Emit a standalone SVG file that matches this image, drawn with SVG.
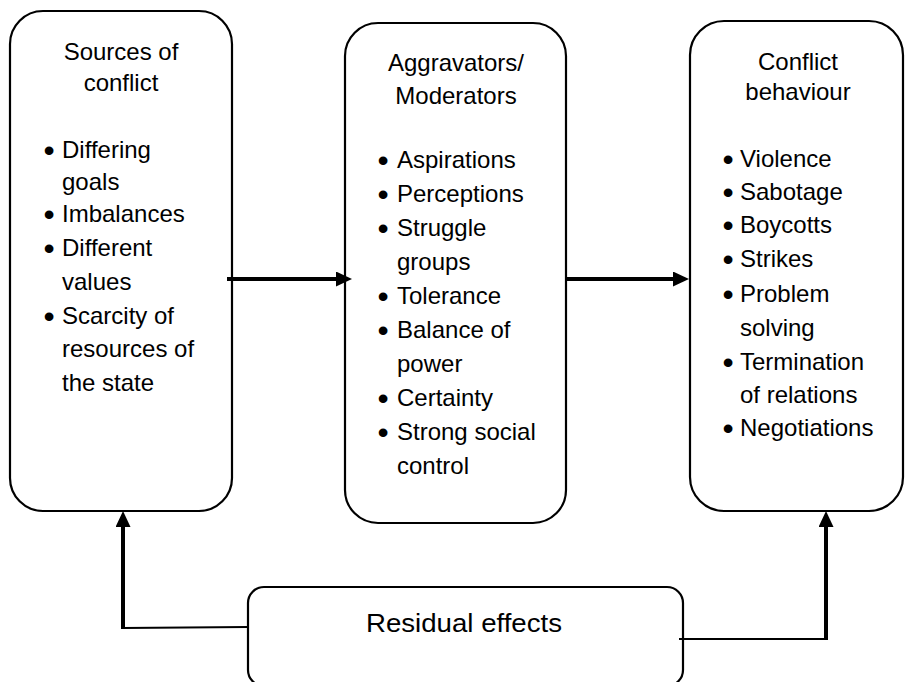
<svg xmlns="http://www.w3.org/2000/svg" width="905" height="682" viewBox="0 0 905 682">
<style>
.box{fill:#fff;stroke:#000;stroke-width:2.2}
.t{font-family:"Liberation Sans",Arial,sans-serif;font-size:24px;fill:#000}
.c{text-anchor:middle}
.b{font-family:"Liberation Sans",Arial,sans-serif;font-size:32px;fill:#000;text-anchor:middle}
.thick{fill:none;stroke:#000;stroke-width:4}
.thin{fill:none;stroke:#000;stroke-width:2}
</style>
<defs>
<marker id="ah" markerUnits="userSpaceOnUse" markerWidth="16" markerHeight="15" refX="2" refY="7.5" orient="auto">
<path d="M0,0 L16,7.5 L0,15 z" fill="#000"/>
</marker>
</defs>
<rect width="905" height="682" fill="#fff"/>
<g id="sources">
<rect class="box" x="10" y="11" width="222" height="500" rx="33" ry="33"/>
<text class="t c" x="121" y="60">Sources of</text>
<text class="t c" x="121" y="91">conflict</text>
<text class="b" x="49" y="161">•</text><text class="t" x="62" y="158">Differing</text>
<text class="t" x="62" y="190">goals</text>
<text class="b" x="49" y="225">•</text><text class="t" x="62" y="222">Imbalances</text>
<text class="b" x="49" y="259">•</text><text class="t" x="62" y="256">Different</text>
<text class="t" x="62" y="290">values</text>
<text class="b" x="49" y="327">•</text><text class="t" x="62" y="324">Scarcity of</text>
<text class="t" x="62" y="357">resources of</text>
<text class="t" x="62" y="391">the state</text>
</g>
<g id="aggravators">
<rect class="box" x="345" y="23" width="221" height="500" rx="33" ry="33"/>
<text class="t c" x="456" y="71">Aggravators/</text>
<text class="t c" x="456" y="104">Moderators</text>
<text class="b" x="383" y="171">•</text><text class="t" x="397" y="168">Aspirations</text>
<text class="b" x="383" y="205">•</text><text class="t" x="397" y="202">Perceptions</text>
<text class="b" x="383" y="239">•</text><text class="t" x="397" y="236">Struggle</text>
<text class="t" x="397" y="270">groups</text>
<text class="b" x="383" y="307">•</text><text class="t" x="397" y="304">Tolerance</text>
<text class="b" x="383" y="341">•</text><text class="t" x="397" y="338">Balance of</text>
<text class="t" x="397" y="372">power</text>
<text class="b" x="383" y="409">•</text><text class="t" x="397" y="406">Certainty</text>
<text class="b" x="383" y="443">•</text><text class="t" x="397" y="440">Strong social</text>
<text class="t" x="397" y="474">control</text>
</g>
<g id="behaviour">
<rect class="box" x="690" y="21" width="213" height="490" rx="34" ry="34"/>
<text class="t c" x="798" y="70">Conflict</text>
<text class="t c" x="798" y="100">behaviour</text>
<text class="b" x="728" y="170">•</text><text class="t" x="740" y="167">Violence</text>
<text class="b" x="728" y="203">•</text><text class="t" x="740" y="200">Sabotage</text>
<text class="b" x="728" y="236">•</text><text class="t" x="740" y="233">Boycotts</text>
<text class="b" x="728" y="270">•</text><text class="t" x="740" y="267">Strikes</text>
<text class="b" x="728" y="305">•</text><text class="t" x="740" y="302">Problem</text>
<text class="t" x="740" y="336">solving</text>
<text class="b" x="728" y="373">•</text><text class="t" x="740" y="370">Termination</text>
<text class="t" x="740" y="403">of relations</text>
<text class="b" x="728" y="439">•</text><text class="t" x="740" y="436">Negotiations</text>
</g>
<g id="residual">
<rect class="box" x="248" y="587" width="435" height="99" rx="16" ry="16"/>
<text class="t c" x="464" y="632" style="font-size:26px" textLength="196" lengthAdjust="spacingAndGlyphs">Residual effects</text>
</g>
<g id="connectors">
<path class="thick" d="M227,279 H338" marker-end="url(#ah)"/>
<path class="thick" d="M566,279 H675" marker-end="url(#ah)"/>
<path class="thin" d="M248,627 L123,628"/>
<path class="thick" d="M123,629 V525" marker-end="url(#ah)"/>
<path class="thin" d="M679,639 H826"/>
<path class="thick" d="M826,640 V525" marker-end="url(#ah)"/>
</g>
</svg>
